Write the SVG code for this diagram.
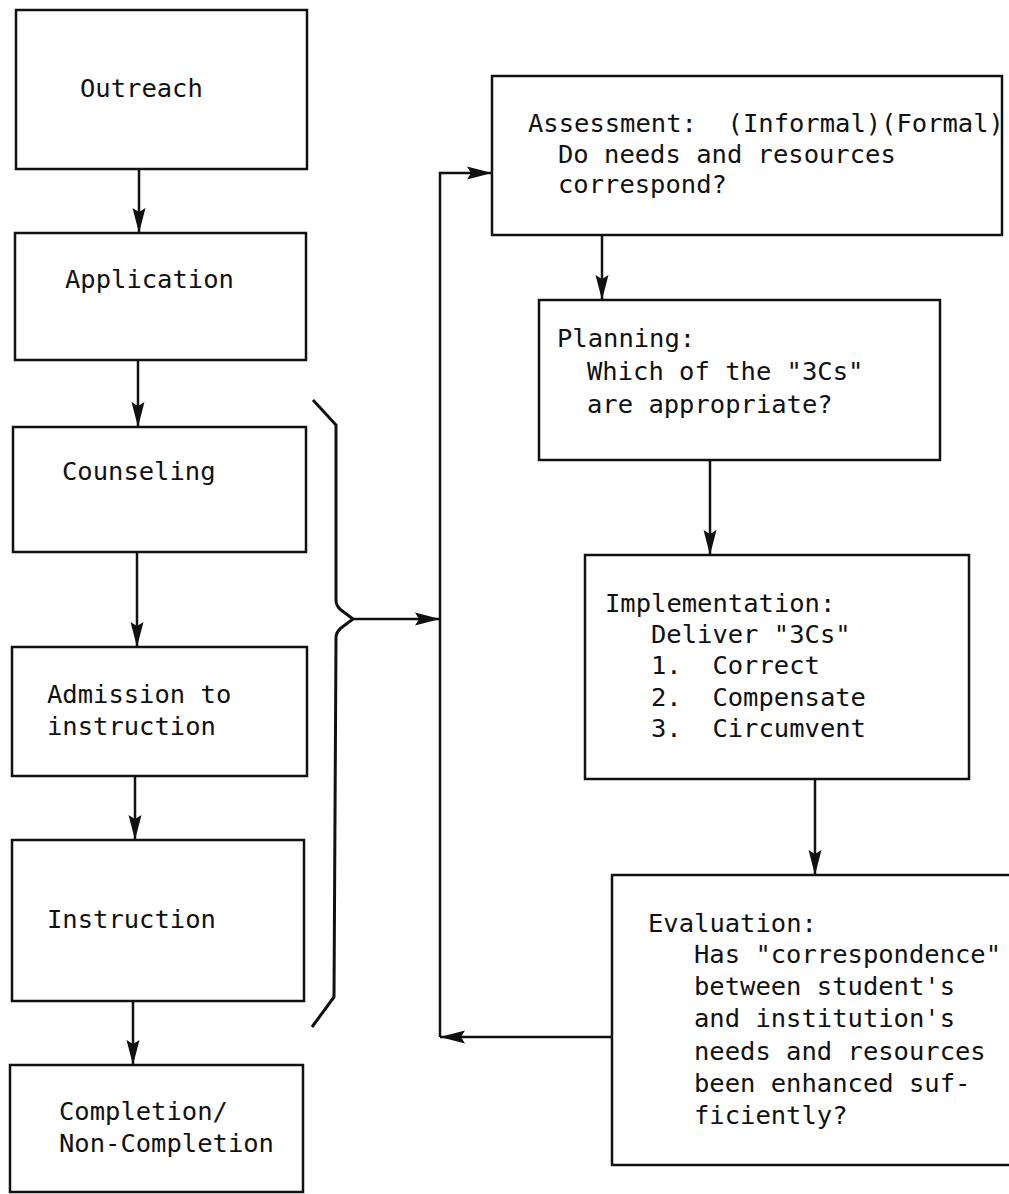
<svg xmlns="http://www.w3.org/2000/svg" width="1009" height="1194" viewBox="0 0 1009 1194" xml:space="preserve">
<style>
.box{fill:none;stroke:#111;stroke-width:2.5}
.t{font-family:"DejaVu Sans Mono","Liberation Mono",monospace;font-size:25.5px;fill:#111;white-space:pre}
.c{fill:none;stroke:#111;stroke-width:2.5}
.br{fill:none;stroke:#111;stroke-width:3;stroke-linejoin:round}
</style>
<defs>
<marker id="ah" markerUnits="userSpaceOnUse" markerWidth="26" markerHeight="14" refX="25" refY="7" orient="auto">
<path d="M0,0.5 L25,7 L0,13.5 L4,7 z" fill="#111"/>
</marker>
</defs>
<rect width="1009" height="1194" fill="#fff"/>
<g id="outreach"><rect class="box" x="16" y="10" width="291" height="159"/><text class="t" x="80" y="97">Outreach</text></g>
<g id="application"><rect class="box" x="15" y="233" width="291" height="127"/><text class="t" x="65" y="288">Application</text></g>
<g id="counseling"><rect class="box" x="13" y="427" width="293" height="125"/><text class="t" x="62" y="480">Counseling</text></g>
<g id="admission"><rect class="box" x="12" y="647" width="295" height="129"/><text class="t" x="47" y="703">Admission to</text><text class="t" x="47" y="735">instruction</text></g>
<g id="instruction"><rect class="box" x="12" y="840" width="292" height="161"/><text class="t" x="47" y="928">Instruction</text></g>
<g id="completion"><rect class="box" x="10" y="1065" width="293" height="127"/><text class="t" x="59" y="1120">Completion/</text><text class="t" x="59" y="1152">Non-Completion</text></g>
<g id="brace"><path class="br" d="M313,400 L336,425 L336,600 Q336,606 341,610 L353,619 L341,628 Q336,632 336,638 L334,997 L312,1027"/></g>
<g id="assessment"><rect class="box" x="492" y="76" width="510" height="159"/><text class="t" x="528" y="132">Assessment:  (Informal)(Formal)</text><text class="t" x="558" y="163">Do needs and resources</text><text class="t" x="558" y="193">correspond?</text></g>
<g id="planning"><rect class="box" x="539" y="300" width="401" height="160"/><text class="t" x="557" y="347">Planning:</text><text class="t" x="587" y="380">Which of the "3Cs"</text><text class="t" x="587" y="413">are appropriate?</text></g>
<g id="implementation"><rect class="box" x="585" y="555" width="384" height="224"/><text class="t" x="605" y="612">Implementation:</text><text class="t" x="651" y="643">Deliver "3Cs"</text><text class="t" x="651" y="674">1.  Correct</text><text class="t" x="651" y="706">2.  Compensate</text><text class="t" x="651" y="737">3.  Circumvent</text></g>
<g id="evaluation"><rect class="box" x="612" y="875" width="410" height="290"/><text class="t" x="648" y="932">Evaluation:</text><text class="t" x="694" y="963">Has "correspondence"</text><text class="t" x="694" y="995">between student's</text><text class="t" x="694" y="1027">and institution's</text><text class="t" x="694" y="1060">needs and resources</text><text class="t" x="694" y="1092">been enhanced suf-</text><text class="t" x="694" y="1124">ficiently?</text></g>
<g id="connectors">
<line class="c" x1="139" y1="169" x2="139" y2="233" marker-end="url(#ah)"/>
<line class="c" x1="138" y1="360" x2="138" y2="427" marker-end="url(#ah)"/>
<line class="c" x1="137" y1="552" x2="137" y2="647" marker-end="url(#ah)"/>
<line class="c" x1="135" y1="776" x2="135" y2="840" marker-end="url(#ah)"/>
<line class="c" x1="133" y1="1001" x2="133" y2="1065" marker-end="url(#ah)"/>
<line class="c" x1="602" y1="235" x2="602" y2="300" marker-end="url(#ah)"/>
<line class="c" x1="710" y1="460" x2="710" y2="555" marker-end="url(#ah)"/>
<line class="c" x1="815" y1="779" x2="815" y2="875" marker-end="url(#ah)"/>
<line class="c" x1="353" y1="619" x2="440" y2="619" marker-end="url(#ah)"/>
<path class="c" d="M612,1037 H440" marker-end="url(#ah)"/>
<path class="c" d="M440,1037 V173 H492" marker-end="url(#ah)"/>
</g>
</svg>
